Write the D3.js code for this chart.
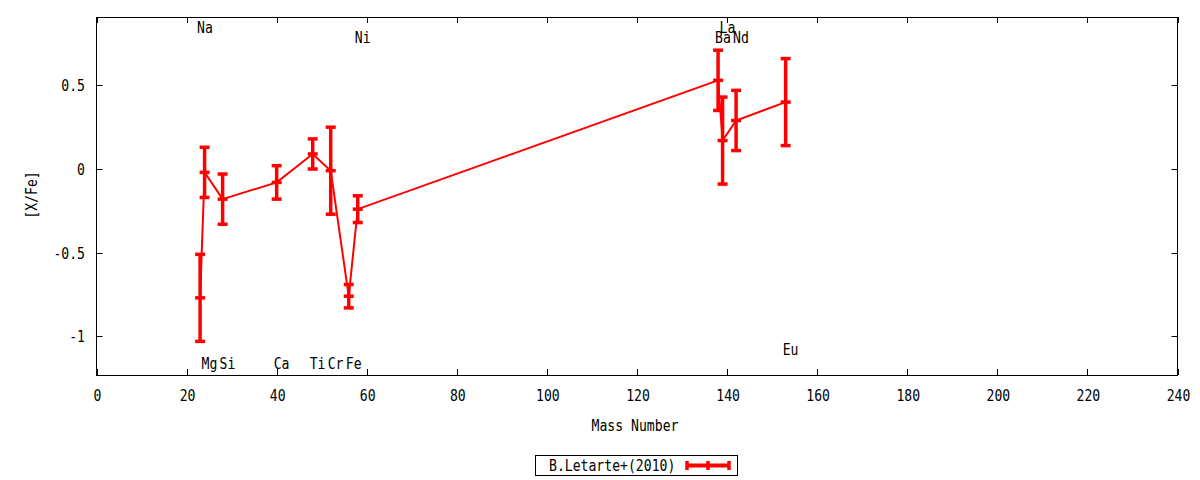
<!DOCTYPE html>
<html>
<head>
<meta charset="utf-8">
<script src="https://cdn.jsdelivr.net/npm/d3@7"></script>
<style>
  body { margin: 0; background: #fff; }
  text { font-family: "DejaVu Sans Mono", monospace; font-size: 16px; fill: #000; }
</style>
</head>
<body>
<div id="chart"></div>
<script>
// B.Letarte+(2010) abundances
const massNumbers = [23, 24, 28, 40, 48, 52, 56, 58, 138, 139, 142, 153]
const abundances = [-0.77, -0.02, -0.18, -0.08, 0.09, -0.01, -0.76, -0.24, 0.53, 0.17, 0.29, 0.40]
const errors = [0.26, 0.15, 0.15, 0.10, 0.09, 0.26, 0.07, 0.08, 0.18, 0.26, 0.18, 0.26]

// element labels
const labelNames = ['Na', 'Mg', 'Si', 'Ca', 'Ti', 'Cr', 'Fe', 'Ni', 'Ba', 'La', 'Nd', 'Eu']
const labelMass = [23, 24, 28, 40, 48, 52, 56, 58, 138, 139, 142, 153]
const labelY = [0.85, -1.16, -1.16, -1.16, -1.16, -1.16, -1.16, 0.79, 0.79, 0.85, 0.79, -1.076]

const xTicks = d3.range(0, 241, 20)
const yTicks = [-1, -0.5, 0, 0.5]
const legendLabel = 'B.Letarte+(2010)'

const width = 1200
const height = 480
const margin = { top: 17, right: 22.5, bottom: 105, left: 96.5 }
const squeeze = 0.82 // narrow glyphs like the gnuplot font
const dy = 1.5

const svg = d3.select('#chart')
  .append('svg')
  .attr('width', width)
  .attr('height', height)

const x = d3.scaleLinear().domain([0, 240]).range([margin.left, width - margin.right])
const y = d3.scaleLinear().domain([-1.231, 0.9085]).range([height - margin.bottom, margin.top])

const x0 = x.range()[0], x1 = x.range()[1]
const y0 = y.range()[0], y1 = y.range()[1]

function at(px, py, rot) {
  return `translate(${px},${py + (rot ? 0 : dy)})` + (rot ? ` rotate(${rot})` : '') + ` scale(${squeeze},1)`
}

// axes: ticks drawn inward, mirrored on top/right
const axes = svg.append('g')
const tickLen = 6

axes.selectAll('.xt').data(xTicks).enter().append('path')
  .attr('d', d => {
    const px = Math.round(x(d)) + 0.5
    return `M${px},${y0}v${-tickLen}M${px},${y1}v${tickLen}`
  })
  .attr('stroke', '#000').attr('stroke-width', 1)

axes.selectAll('.yt').data(yTicks).enter().append('path')
  .attr('d', d => {
    const py = Math.round(y(d)) + 0.5
    return `M${x0},${py}h${tickLen}M${x1},${py}h${-tickLen}`
  })
  .attr('stroke', '#000').attr('stroke-width', 1)

axes.selectAll('.xl').data(xTicks).enter().append('text')
  .attr('transform', d => at(x(d) + 1, 395))
  .attr('text-anchor', 'middle')
  .attr('dominant-baseline', 'middle')
  .text(d => d)

axes.selectAll('.yl').data(yTicks).enter().append('text')
  .attr('transform', d => at(85, y(d)))
  .attr('text-anchor', 'end')
  .attr('dominant-baseline', 'middle')
  .text(d => d)

axes.append('rect')
  .attr('x', x0).attr('y', y1 + 0.5)
  .attr('width', x1 - x0).attr('height', y0 - y1)
  .attr('fill', 'none').attr('stroke', '#000').attr('stroke-width', 1)

svg.append('text')
  .attr('transform', at((x0 + x1) / 2 - 2, 425))
  .attr('text-anchor', 'middle')
  .attr('dominant-baseline', 'middle')
  .text('Mass Number')

svg.append('text')
  .attr('transform', at(33, 195, -90))
  .attr('text-anchor', 'middle')
  .attr('dominant-baseline', 'middle')
  .text('[X/Fe]')

// element labels
svg.append('g').selectAll('text').data(labelNames).enter().append('text')
  .attr('transform', (d, i) => at(x(labelMass[i]) - 3, y(labelY[i])))
  .attr('dominant-baseline', 'middle')
  .text(d => d)

// data
const pts = massNumbers.map((m, i) => ({ m: m, v: abundances[i], e: errors[i] }))
const red = '#ff0000'

svg.append('path')
  .datum(pts)
  .attr('fill', 'none')
  .attr('stroke', red)
  .attr('stroke-width', 2)
  .attr('d', d3.line().x(d => x(d.m)).y(d => y(d.v)))

const bars = svg.append('g').selectAll('g').data(pts).enter().append('g')
const capW = 10

bars.append('line')
  .attr('x1', d => x(d.m)).attr('x2', d => x(d.m))
  .attr('y1', d => y(d.v + d.e)).attr('y2', d => y(d.v - d.e))
  .attr('stroke', red).attr('stroke-width', 3.5)

bars.selectAll('.cap')
  .data(d => [d.v + d.e, d.v, d.v - d.e].map(v => ({ m: d.m, v: v })))
  .enter().append('line')
  .attr('x1', d => x(d.m) - capW / 2).attr('x2', d => x(d.m) + capW / 2)
  .attr('y1', d => y(d.v)).attr('y2', d => y(d.v))
  .attr('stroke', red).attr('stroke-width', 3.5)

// legend
const legend = svg.append('g')
legend.append('rect')
  .attr('x', 535.5).attr('y', 455.5)
  .attr('width', 202).attr('height', 20)
  .attr('fill', '#fff').attr('stroke', '#000').attr('stroke-width', 1)
legend.append('text')
  .attr('transform', at(549, 465.5))
  .attr('dominant-baseline', 'middle')
  .text(legendLabel)
legend.append('line')
  .attr('x1', 687).attr('x2', 729).attr('y1', 465.5).attr('y2', 465.5)
  .attr('stroke', red).attr('stroke-width', 4)
legend.selectAll('.lc').data([687, 708, 729]).enter().append('line')
  .attr('x1', d => d).attr('x2', d => d)
  .attr('y1', 461).attr('y2', 470)
  .attr('stroke', red).attr('stroke-width', 3.5)
</script>
</body>
</html>
